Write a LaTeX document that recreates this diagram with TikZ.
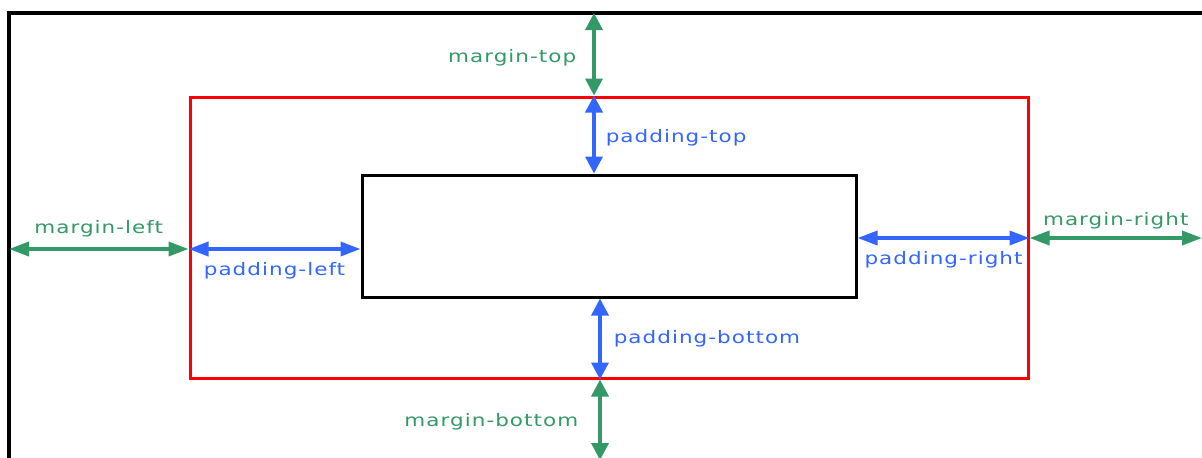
\documentclass[tikz,border=0pt]{standalone}
\usepackage{fontspec}
\setmainfont{DejaVu Sans}[FakeStretch=1.25,LetterSpace=6]
\usetikzlibrary{arrows.meta,positioning,fit}
\definecolor{BoxGreen}{HTML}{339966}
\definecolor{BoxBlue}{HTML}{3366FF}
\definecolor{BoxRed}{HTML}{FF0000}

\begin{document}
\begin{tikzpicture}[x=0.5pt,y=-0.5pt,font=\fontsize{8.6}{10}\selectfont]
    \tikzset{
      outerline/.style={line width=1.8pt,black},
      borderbox/.style={draw=BoxRed,line width=1.5pt,inner sep=0pt},
      contentbox/.style={draw=black,line width=1.5pt,inner sep=0pt},
      marginarrow/.style={BoxGreen,line width=1.8pt},
      paddingarrow/.style={BoxBlue,line width=1.8pt},
      harrow/.style={<->,>={Triangle[length=10pt,width=7pt]}},
      varrow/.style={<->,>={Triangle[length=8.5pt,width=8.5pt]}},
      marginlabel/.style={text=BoxGreen,inner sep=0pt},
      paddinglabel/.style={text=BoxBlue,inner sep=0pt}
    }
    \useasboundingbox (0,0) rectangle (1202,457);
    % outer frame, cut by the page edges
    \draw[outerline] (9,470) -- (9,13) -- (1215,13);
    \coordinate (frametop) at (594,13);
    \coordinate (frameleft) at (9,249);
    \coordinate (frameright) at (1202,238);
    \coordinate (framebottom) at (600,460);
    \node[borderbox,fit={(190,97) (1028,378)}] (border) {};
    \node[contentbox,fit={(362,175) (856,297)}] (content) {};
    % top
    \draw[marginarrow,varrow] (frametop) -- (border.north -| frametop)
      node[midway,marginlabel,left=8pt,yshift=-1.5pt] {margin-top};
    \draw[paddingarrow,varrow] (border.north -| frametop) -- (content.north -| frametop)
      node[midway,paddinglabel,right=5pt,yshift=-1.5pt] {padding-top};
    % left
    \draw[marginarrow,harrow] (frameleft) -- (frameleft -| border.west)
      node[midway,marginlabel,above=5pt] {margin-left};
    \draw[paddingarrow,harrow] (frameleft -| border.west) -- (frameleft -| content.west)
      node[midway,paddinglabel,below=6pt] {padding-left};
    % right
    \draw[paddingarrow,harrow] (frameright -| content.east) -- (frameright -| border.east)
      node[midway,paddinglabel,below=6pt] {padding-right};
    \draw[marginarrow,harrow] (frameright -| border.east) -- (frameright)
      node[midway,marginlabel,above=3.5pt] {margin-right};
    % bottom
    \draw[paddingarrow,varrow] (content.south -| framebottom) -- (border.south -| framebottom)
      node[midway,paddinglabel,right=6pt] {padding-bottom};
    \draw[marginarrow,varrow] (border.south -| framebottom) -- (framebottom)
      node[midway,marginlabel,left=10pt,yshift=-1pt] {margin-bottom};
\end{tikzpicture}
\end{document}
